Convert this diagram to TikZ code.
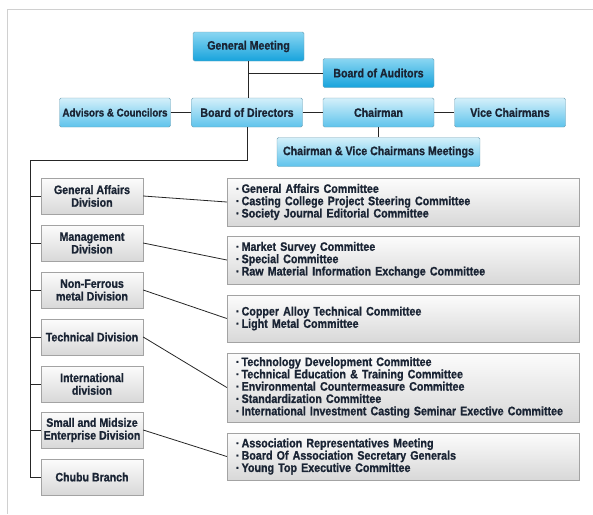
\documentclass[tikz,border=0pt]{standalone}
\usepackage{fontspec}
\setmainfont{Liberation Sans Bold}[FakeStretch=0.87, FakeBold=1]
\usetikzlibrary{positioning}
\definecolor{gmtop}{HTML}{8AD6F2}
\definecolor{gmbot}{HTML}{17A3DC}
\definecolor{bdtop}{HTML}{D4F0FA}
\definecolor{bdbot}{HTML}{5EC3EC}
\definecolor{blueline}{HTML}{6F9FB3}
\definecolor{greytop}{HTML}{FCFCFC}
\definecolor{greybot}{HTML}{D8D8D8}
\definecolor{greyline}{HTML}{A3A3A3}
\definecolor{textcol}{HTML}{1A2434}
\definecolor{framecol}{HTML}{D0D0D0}
\tikzset{
    topbox/.style={draw=blueline, rounded corners=1.5pt, top color=gmtop, bottom color=gmbot,
        minimum width=111pt, minimum height=29pt, inner sep=0pt,
        font=\fontsize{12.2}{13}\selectfont, text=textcol},
    headbox/.style={topbox, top color=bdtop, bottom color=bdbot},
    divbox/.style={draw=greyline, top color=greytop, bottom color=greybot,
        minimum width=102pt, minimum height=36pt, inner sep=0pt, align=center,
        font=\fontsize{12.2}{12.7}\selectfont, text=textcol},
    combox/.style={draw=greyline, top color=greytop, bottom color=greybot,
        text width=334pt, inner xsep=9pt, inner ysep=0pt, align=left,
        font=\fontsize{12.3}{12.3}\selectfont, text=textcol},
    link/.style={draw=black!85, line width=0.8pt}
}
\begin{document}
\begin{tikzpicture}[x=1pt, y=-1pt]
    \useasboundingbox (0,0) rectangle (593,514);
    % frame
    \draw[framecol, line width=1pt] (593,9) -- (7,9) -- (7,514);
    % top of the chart
    \node[topbox] (gm) at (248.5,46.5) {General Meeting};
    \node[topbox] (aud) at (378.5,73) {Board of Auditors};
    \node[headbox, font=\fontsize{11.2}{13}\selectfont] (adv) at (115,112.5) {Advisors \& Councilors};
    \node[headbox] (bod) at (247,112.5) {Board of Directors};
    \node[headbox] (chair) at (378.5,112.5) {Chairman};
    \node[headbox] (vice) at (510,112.5) {Vice Chairmans};
    \node[headbox, minimum width=203pt] (meet) at (378.5,152) {Chairman \& Vice Chairmans Meetings};
    \draw[link] (gm.south) -- (gm.south |- bod.north);
    \draw[link] (gm.south |- aud.west) -- (aud.west);
    \draw[link] (adv) -- (bod);
    \draw[link] (bod) -- (chair);
    \draw[link] (chair) -- (vice);
    \draw[link] (chair) -- (meet);
    % divisions
    \coordinate (trunk) at (30,160);
    \foreach \name/\y/\txt in {ga/196/General Affairs\\Division,
                               mg/243/Management\\Division,
                               nf/290/Non-Ferrous\\metal Division,
                               td/337/Technical Division,
                               id/384/International\\division,
                               sm/430/Small and Midsize\\Enterprise Division,
                               cb/477/Chubu Branch} {
        \node[divbox] (\name) at (92,\y) {\txt};
        \draw[link] (trunk |- \name.west) -- (\name.west);
    }
    \draw[link] (bod.south) -- (bod.south |- trunk) -- (trunk) -- (trunk |- cb.west);
    % committees
    \node[combox, minimum height=48pt] (c1) at (403,202) {%
        ·\,General Affairs Committee\\
        ·\,Casting College Project Steering Committee\\
        ·\,Society Journal Editorial Committee};
    \node[combox, minimum height=48pt] (c2) at (403,260) {%
        ·\,Market Survey Committee\\
        ·\,Special Committee\\
        ·\,Raw Material Information Exchange Committee};
    \node[combox, minimum height=47pt] (c3) at (403,318.5) {%
        ·\,Copper Alloy Technical Committee\\
        ·\,Light Metal Committee};
    \node[combox, minimum height=69pt] (c4) at (403,387.5) {%
        ·\,Technology Development Committee\\
        ·\,Technical Education \& Training Committee\\
        ·\,Environmental Countermeasure Committee\\
        ·\,Standardization Committee\\
        ·\,International Investment Casting Seminar Exective Committee};
    \node[combox, minimum height=47pt] (c5) at (403,456.5) {%
        ·\,Association Representatives Meeting\\
        ·\,Board Of Association Secretary Generals\\
        ·\,Young Top Executive Committee};
    \draw[link] (ga.east) -- (c1.west);
    \draw[link] (mg.east) -- (c2.west);
    \draw[link] (nf.east) -- (c3.west);
    \draw[link] (td.east) -- (c4.west);
    \draw[link] (sm.east) -- (c5.west);
\end{tikzpicture}
\end{document}
